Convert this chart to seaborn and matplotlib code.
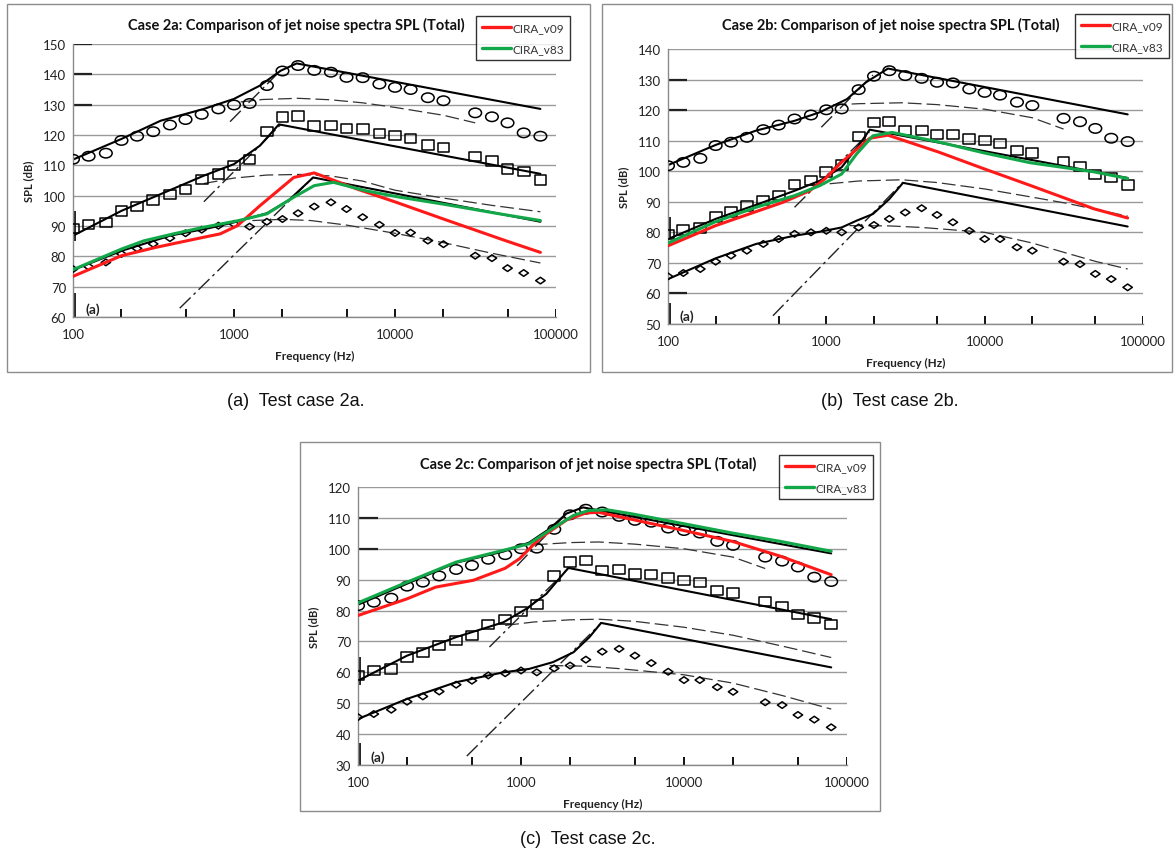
import numpy as np
import pandas as pd
import matplotlib
matplotlib.use("Agg")
import matplotlib.pyplot as plt
from matplotlib.path import Path
from matplotlib.patches import Rectangle
from matplotlib.lines import Line2D
from matplotlib.ticker import FixedLocator, FixedFormatter, NullLocator
import seaborn as sns

# ---------------------------------------------------------------
# data (1/3 octave bands, SPL in dB)
# ---------------------------------------------------------------
FREQ = [100, 125, 160, 200, 250, 315, 400, 500, 630, 800, 1000, 1250, 1600, 2000,
        2500, 3150, 4000, 5000, 6300, 8000, 10000, 12500, 16000, 20000,
        31500, 40000, 50000, 63000, 80000]

# case 2a
A_CIRC = [112, 113, 114, 118.2, 119.6, 121.1, 123.3, 125.1, 126.8, 128.6, 129.9, 130.4, 136.3, 141.1,
          142.9, 141.3, 140.7, 139, 138.9, 136.8, 135.7, 135, 132.3, 131.3, 127.3, 126, 124, 120.7, 119.6]
A_SQ = [89.1, 90.5, 91.1, 95, 96.5, 98.6, 100.3, 102, 105.3, 107.1, 109.9, 111.9, 121.2, 125.9,
        126.2, 122.9, 123.1, 122.2, 122, 120.5, 119.8, 118.9, 116.7, 115.9, 113, 111.4, 108.8, 108, 105.2]
A_DIAM = [75.8, 76.6, 78, 80.8, 82.6, 84.1, 86, 87.6, 88.8, 90.1, 90.7, 89.8, 91.4, 92.3,
          94.2, 96.4, 97.8, 95.6, 92.9, 90.4, 87.7, 87.8, 85.2, 84, 80.2, 79.4, 76.1, 74.5, 72]
A_TOT1 = [(100, 111.9), (200, 118.7), (350, 124.7), (650, 128.6), (1000, 131.9), (1450, 136.3),
          (1950, 141.2), (2450, 143.6), (80000, 128.6)]
A_TOT2 = [(100, 86.8), (200, 95), (350, 100.5), (650, 106.6), (1000, 110.4), (1450, 116.5),
          (1900, 123.5), (80000, 107.2)]
A_TOT3 = [(100, 75.5), (200, 81.8), (400, 86.8), (700, 89.3), (1000, 91.2), (1600, 94.2),
          (2200, 98.6), (3100, 106), (80000, 91.4)]
A_MIX1 = [(1100, 130.9), (1500, 131.7), (2500, 132.1), (4000, 131.6), (6300, 130.6),
          (10000, 129.1), (20000, 126.5), (31500, 124)]
A_MIX2 = [(650, 104), (1000, 105.8), (1600, 106.8), (2600, 107), (4000, 106.5), (6300, 104.8),
          (10000, 101.8), (20000, 99.2), (40000, 96.8), (80000, 94.7)]
A_MIX3 = [(1300, 91.8), (2000, 92.2), (3000, 91.8), (5000, 90.3), (10000, 87.6), (20000, 84.5),
          (40000, 81), (80000, 77.8)]
A_SHOCK1 = [(945, 124.4), (1940, 141.2)]
A_SHOCK2 = [(650, 98), (1940, 123.3)]
A_SHOCK3 = [(460, 62.9), (3100, 106)]
A_V09 = [(100, 73.4), (200, 80.2), (330, 83), (650, 86.3), (820, 87.4), (1050, 90.1), (1450, 96.7),
         (2350, 106), (3150, 107.5), (5800, 102.2), (10200, 97.8), (20000, 92.3), (49000, 85.1),
         (80000, 81.3)]
A_V83 = [(100, 75.6), (200, 82.4), (275, 85.1), (420, 87.4), (650, 89.6), (1050, 91.7), (1600, 94),
         (2350, 99.5), (3150, 103.3), (4150, 104.4), (6600, 101.6), (10700, 99.5), (20000, 97.2),
         (44700, 94), (80000, 91.8)]

# case 2b
B_CIRC = [101.8, 102.9, 104.2, 108.4, 109.5, 111.1, 113.6, 115.1, 117.1, 118.4, 120.1, 120.4, 126.7, 131.1,
          132.9, 131.3, 130.4, 129.1, 128.9, 126.9, 125.8, 124.9, 122.6, 121.5, 117.3, 116.2, 114, 110.8, 109.7]
B_SQ = [79.2, 80.8, 81.4, 85, 86.6, 88.6, 90.5, 92.1, 95.6, 97, 99.8, 102, 111.4, 116,
        116.2, 113.3, 113.4, 112.1, 112, 110.6, 110, 109.1, 106.7, 106, 103, 101.6, 98.9, 98, 95.5]
B_DIAM = [65.6, 66.7, 68, 70.4, 72.4, 74, 76.2, 77.8, 79.5, 80, 80.5, 80, 81.6, 82.4,
          84.4, 86.5, 87.9, 85.7, 83.3, 80.5, 77.8, 77.8, 75.1, 74, 70.4, 69.6, 66.4, 64.7, 62]
B_TOT1 = [(100, 102), (200, 108.6), (360, 113.3), (630, 116.5), (910, 119.3), (1350, 123.6),
          (1780, 129.1), (2450, 133.6), (80000, 118.6)]
B_TOT2 = [(100, 77.8), (200, 84.4), (360, 89), (630, 93.6), (910, 96.9), (1250, 101.3),
          (1600, 108.4), (1880, 113.6), (80000, 97.8)]
B_TOT3 = [(100, 64.7), (200, 71.5), (360, 76.2), (630, 78.9), (910, 80.2), (1250, 81.6),
          (1550, 83.8), (1970, 86), (2500, 90.9), (3050, 96.2), (80000, 81.9)]
B_MIX1 = [(1100, 121.7), (1600, 122.1), (3000, 122.4), (5000, 121.8), (10000, 120.3),
          (20000, 117.5), (31500, 113.8)]
B_MIX2 = [(800, 95.4), (1000, 95.8), (1600, 96.8), (3000, 97.2), (5000, 96.3), (10000, 94.2),
          (20000, 91.5), (33000, 89.5), (80000, 85.3)]
B_MIX3 = [(1400, 82.2), (2500, 82.1), (4000, 81.6), (10000, 80), (20000, 76.5), (30000, 73.8),
          (50000, 70.5), (80000, 68)]
B_SHOCK1 = [(930, 114.4), (1970, 131.5)]
B_SHOCK2 = [(630, 88.2), (1880, 112.7)]
B_SHOCK3 = [(460, 52.7), (3050, 96.4)]
B_V09 = [(100, 75.6), (200, 82.2), (530, 89.8), (785, 93.6), (980, 97.5), (1245, 102.9),
         (1880, 110.8), (2450, 111.8), (5100, 106.3), (9900, 100.8), (19300, 95.4),
         (49000, 87.7), (80000, 84.7)]
B_V83 = [(100, 76.5), (200, 83.5), (360, 88.2), (630, 92), (910, 95.3), (1250, 99.1),
         (1550, 105.6), (1970, 111.6), (2600, 112.7), (5100, 109.6), (9900, 106),
         (19300, 102.8), (49000, 99.8), (80000, 97.6)]

# case 2c
C_CIRC = [81.6, 82.7, 84, 87.9, 89.2, 91.2, 93.3, 94.6, 96.6, 98.1, 100, 100.2, 106.3, 111,
          112.8, 111.9, 110.5, 109.2, 108.6, 106.7, 105.9, 105.1, 102.4, 101.1, 97.3, 96, 94.1, 90.8, 89.4]
C_SQ = [59, 60.6, 61.1, 64.9, 66.5, 68.7, 70.3, 71.9, 75.4, 77.1, 79.7, 81.9, 91.2, 95.7,
        96.2, 93, 93.3, 91.9, 91.6, 90.5, 89.7, 89, 86.5, 85.7, 82.9, 81.4, 78.7, 77.6, 75.4]
C_DIAM = [45.5, 46.5, 47.9, 50.5, 52.2, 53.8, 56, 57.3, 59, 59.7, 60.6, 60, 61.3, 62.2,
          64.1, 66.7, 67.6, 65.4, 63, 60.2, 57.5, 57.5, 55.2, 53.7, 50.3, 49.4, 46.2, 44.7, 42.2]
C_TOT1 = [(100, 81.9), (200, 88.7), (400, 95.5), (780, 99.1), (1120, 102), (1500, 106.5),
          (1900, 111.4), (2400, 113.4), (80000, 98.5)]
C_TOT2 = [(100, 57.3), (200, 65.4), (400, 71.4), (780, 76.2), (1080, 80.6), (1430, 85.4),
          (1950, 93.8), (80000, 77.2)]
C_TOT3 = [(100, 44.9), (200, 51.4), (400, 56.8), (780, 60), (1120, 61.1), (1570, 63.3),
          (2100, 66.5), (2630, 71.4), (3100, 76), (80000, 61.6)]
C_MIX1 = [(1200, 101.3), (2000, 102), (3000, 102.2), (5000, 101.5), (10000, 100), (20000, 97.3),
          (31500, 93.6)]
C_MIX2 = [(800, 75.2), (1200, 76.3), (2000, 77), (3000, 77.2), (5000, 76.5), (10000, 74.6),
          (20000, 72), (40000, 68.5), (80000, 64.8)]
C_MIX3 = [(1500, 62.2), (2500, 62), (4000, 61.2), (10000, 59.2), (20000, 56.5), (40000, 52.5),
          (80000, 48.1)]
C_SHOCK1 = [(945, 94.5), (1880, 111.1)]
C_SHOCK2 = [(640, 68.2), (1950, 93.6)]
C_SHOCK3 = [(465, 32.9), (3100, 75.9)]
C_V09 = [(100, 78.4), (200, 83.8), (300, 87.6), (510, 89.8), (800, 93.7), (980, 96.8),
         (1300, 103.3), (1900, 109.3), (2500, 111.6), (3000, 111.8), (4800, 109.5),
         (10000, 105.9), (19800, 102.4), (39000, 97.6), (80000, 91.6)]
C_V83 = [(100, 82.5), (200, 89.2), (400, 95.7), (780, 99.5), (1120, 101.6), (1500, 106),
         (2100, 110.8), (2600, 112.4), (3400, 112.6), (4800, 111.3), (10000, 108.1),
         (19800, 105.1), (39000, 102.4), (80000, 99.2)]

# leftovers of the scanned original graph (tick marks / axis bits)
SCAN_XTICKS = [200, 500, 1000, 2000, 5000, 10000, 20000, 50000, 100000]
A_SCAN_Y = [130, 140, 150]
B_SCAN_Y = [60, 120, 130]
C_SCAN_Y = [100, 110]
A_SCAN_V = [(60, 68), (85, 95)]
B_SCAN_V = [(50, 57), (78, 85)]
C_SCAN_V = [(30, 37), (56, 65)]

TITLES = ["Case 2a: Comparison of jet noise spectra SPL (Total)",
          "Case 2b: Comparison of jet noise spectra SPL (Total)",
          "Case 2c: Comparison of jet noise spectra SPL (Total)"]
CAPTIONS = ["(a)  Test case 2a.", "(b)  Test case 2b.", "(c)  Test case 2c."]
YLIMS = [(60, 150), (50, 140), (30, 120)]
XTICKS = [100, 1000, 10000, 100000]

# ---------------------------------------------------------------
sns.set_theme(style="white")
plt.rcParams["font.family"] = ["Lato", "DejaVu Sans"]

W, H = 1176, 854
fig = plt.figure(figsize=(W / 100, H / 100), dpi=100)
fig.patch.set_facecolor("white")


def px_rect(l, t, r, b):
    return [l / W, 1 - b / H, (r - l) / W, (b - t) / H]


# open markers, a bit squashed like in the scan
circ_v = Path.unit_circle().vertices.copy()
circ_v[:, 1] *= 0.75
CIRCLE = Path(circ_v, Path.unit_circle().codes)
SQUARE = Path([(-1, -0.8), (1, -0.8), (1, 0.8), (-1, 0.8), (-1, -0.8)], closed=True)
DIAMOND = Path([(0, -0.7), (1, 0), (0, 0.7), (-1, 0), (0, -0.7)], closed=True)

RED = "#ff1a1a"
GREEN = "#12a84a"
GRID = "#9a9a9a"


def draw_curve(ax, pts, **kw):
    df = pd.DataFrame(pts, columns=["f", "spl"])
    sns.lineplot(data=df, x="f", y="spl", ax=ax, estimator=None, sort=False,
                 legend=False, **kw)


def draw_points(ax, values, marker, size):
    df = pd.DataFrame({"f": FREQ, "spl": values})
    sns.scatterplot(data=df, x="f", y="spl", ax=ax, marker=marker, s=size,
                    facecolors="none", edgecolor="black", linewidth=1.1,
                    legend=False, zorder=3)


def draw_panel(ax, idx, circ, sq, diam, tots, mixes, shocks, v09, v83, scan_y, scan_v):
    ax.set_xscale("log")
    ax.set_xlim(100, 100000)
    ax.set_ylim(*YLIMS[idx])
    ax.set_yticks(np.arange(YLIMS[idx][0], YLIMS[idx][1] + 1, 10))
    ax.xaxis.set_major_locator(FixedLocator(XTICKS))
    ax.xaxis.set_major_formatter(FixedFormatter([str(t) for t in XTICKS]))
    ax.xaxis.set_minor_locator(NullLocator())
    ax.grid(axis="y", color=GRID, lw=1.0)
    ax.set_axisbelow(True)
    for s in ["top", "right"]:
        ax.spines[s].set_visible(False)
    for s in ["left", "bottom"]:
        ax.spines[s].set_color("#8a8a8a")
        ax.spines[s].set_linewidth(1.0)
    ax.tick_params(axis="both", length=0, labelsize=9.5, colors="#222222", pad=5)
    ax.tick_params(axis="x", pad=8)

    # scan leftovers
    ax.vlines(SCAN_XTICKS, 0, 0.03, transform=ax.get_xaxis_transform(),
              color="#111111", lw=1.4, zorder=2)
    ax.hlines(scan_y, 0, 0.04, transform=ax.get_yaxis_transform(),
              color="#222222", lw=1.6, zorder=2)
    for lo, hi in scan_v:
        ax.vlines([103], lo, hi, color="#111111", lw=1.3, zorder=2)
    ax.text(0.025, 0.008, "(a)", transform=ax.transAxes, fontsize=10,
            fontweight="bold", color="#222222", va="bottom", ha="left")

    for pts in mixes:
        draw_curve(ax, pts, color="#333333", lw=0.9, linestyle=(0, (11, 4)))
    for pts in shocks:
        draw_curve(ax, pts, color="#222222", lw=1.0, linestyle=(0, (11, 3, 2, 3)))
    for pts in tots:
        draw_curve(ax, pts, color="black", lw=1.5)

    draw_points(ax, circ, CIRCLE, 82)
    draw_points(ax, sq, SQUARE, 72)
    draw_points(ax, diam, DIAMOND, 46)

    draw_curve(ax, v09, color=RED, lw=2.2, zorder=4)
    draw_curve(ax, v83, color=GREEN, lw=2.2, zorder=4)

    ax.set_xlabel("Frequency (Hz)", fontsize=8.5, fontweight="bold", color="#222222", labelpad=7)
    ax.set_ylabel("SPL (dB)", fontsize=8, fontweight="bold", color="#222222", labelpad=6)


axes_boxes = [(73, 45, 556, 318), (668, 50, 1143, 325), (358, 488, 847, 766)]
frames = [(7, 5, 590, 373), (602, 5, 1172, 373), (300, 443, 880, 812)]
title_pos = [(296, 25), (891, 25), (588, 464)]
legend_pos = [(476, 17), (1075, 15), (779, 456)]
caption_pos = [(296, 402), (890, 402), (588, 840)]

panels = [
    (A_CIRC, A_SQ, A_DIAM, [A_TOT1, A_TOT2, A_TOT3], [A_MIX1, A_MIX2, A_MIX3],
     [A_SHOCK1, A_SHOCK2, A_SHOCK3], A_V09, A_V83, A_SCAN_Y, A_SCAN_V),
    (B_CIRC, B_SQ, B_DIAM, [B_TOT1, B_TOT2, B_TOT3], [B_MIX1, B_MIX2, B_MIX3],
     [B_SHOCK1, B_SHOCK2, B_SHOCK3], B_V09, B_V83, B_SCAN_Y, B_SCAN_V),
    (C_CIRC, C_SQ, C_DIAM, [C_TOT1, C_TOT2, C_TOT3], [C_MIX1, C_MIX2, C_MIX3],
     [C_SHOCK1, C_SHOCK2, C_SHOCK3], C_V09, C_V83, C_SCAN_Y, C_SCAN_V),
]

for i, p in enumerate(panels):
    fl, ft, fr, fb = frames[i]
    fig.patches.append(Rectangle((fl / W, 1 - fb / H), (fr - fl) / W, (fb - ft) / H,
                                 transform=fig.transFigure, fill=False,
                                 edgecolor="#8c8c8c", lw=1.0))
    ax = fig.add_axes(px_rect(*axes_boxes[i]))
    ax.set_facecolor("white")
    draw_panel(ax, i, *p)

    tx, ty = title_pos[i]
    fig.text(tx / W, 1 - ty / H, TITLES[i], ha="center", va="center",
             fontsize=10.5, fontweight="bold", color="#111111")

    handles = [Line2D([], [], color=RED, lw=2.4), Line2D([], [], color=GREEN, lw=2.4)]
    lx, ly = legend_pos[i]
    leg = fig.legend(handles, ["CIRA_v09", "CIRA_v83"], loc="upper left",
                     bbox_to_anchor=(lx / W, 1 - ly / H), frameon=True, fancybox=False,
                     edgecolor="black", fontsize=8.5, handlelength=2.5, handletextpad=0.1,
                     labelspacing=0.9, borderpad=0.5, borderaxespad=0)
    leg.get_frame().set_linewidth(1.0)
    for t in leg.get_texts():
        t.set_color("#333333")

    cx, cy = caption_pos[i]
    fig.text(cx / W, 1 - cy / H, CAPTIONS[i], ha="center", va="center",
             fontsize=13, family=["Liberation Sans", "DejaVu Sans"], color="#111111")

fig.savefig("out.png", dpi=100, facecolor="white")
